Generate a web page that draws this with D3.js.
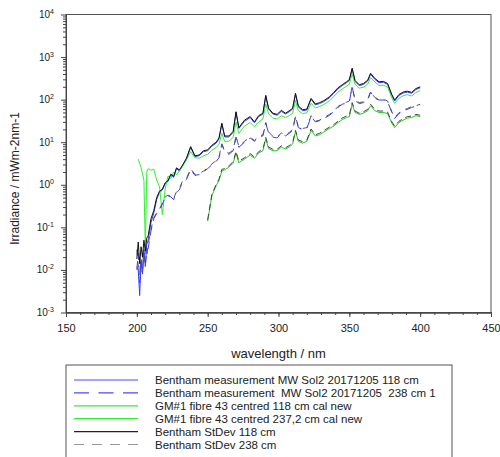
<!DOCTYPE html>
<html>
<head>
<meta charset="utf-8">
<script src="https://cdn.jsdelivr.net/npm/d3@7"></script>
<style>
body { margin: 0; background: #fff; }
figure { margin: 0; }
svg { display: block; font-family: "Liberation Sans", Arial, sans-serif; }
</style>
</head>
<body>
<figure id="chart"></figure>
<script>
// wavelength grid (nm) shared by every series
var wavelengths = [200, 201, 202, 203, 204, 205, 206, 207, 208, 210, 212, 214, 216, 218, 220, 222, 224, 226, 228, 230,
    232, 235, 238, 241, 244, 247, 250, 253, 256, 258, 260, 262, 265, 268, 270, 272, 276, 280, 283, 286,
    289, 291, 293, 296, 299, 302, 305, 308, 310, 312, 314, 317, 320, 323, 326, 329, 332, 336, 339, 342,
    345, 348, 350, 352, 354, 357, 360, 363, 365, 368, 371, 374, 377, 380, 382, 385, 388, 391, 394, 397, 400];

// irradiance, mW m-2 nm-1
var bentham118 = [0.012, 0.01, 0.0025, 0.016, 0.008, 0.03, 0.012, 0.04, 0.05, 0.13, 0.22, 0.45, 0.66, 0.75, 1.05, 1.2, 1.7, 1.5, 2.4, 2.1,
    2.7, 4.0, 7.5, 4.6, 4.8, 6.0, 6.3, 8.1, 9.5, 12, 27, 13.3, 13.3, 17, 50, 21, 31, 38, 28.5, 40,
    46, 120, 60, 46, 43, 53, 46, 53, 60, 134, 67, 55, 57, 102, 75, 81, 90, 111, 141, 180,
    213, 250, 280, 520, 268, 213, 228, 274, 396, 300, 250, 256, 228, 125, 93, 125, 143, 150, 141, 173, 190];

var bentham238 = [0.01, 0.025, 0.005, 0.02, 0.0089, 0.025, 0.0126, 0.028, 0.032, 0.083, 0.16, 0.21, 0.25, 0.35, 0.5, 0.54, 0.52, 0.45, 0.66, 0.76,
    1.12, 1.32, 2.3, 1.66, 1.74, 2.0, 2.4, 2.95, 3.55, 4.3, 8.9, 6.0, 5.2, 6.3, 13.2, 7.6, 10, 12.6, 10.5, 13.2,
    14.1, 28, 16.6, 13.2, 12.6, 15.8, 14.1, 16.6, 19, 40, 22, 20, 21, 40, 30, 32, 36, 43, 52, 66,
    78, 83, 89, 200, 95, 81, 85, 98, 151, 107, 98, 98, 89, 50, 36, 47, 55, 59, 66, 69, 74];

var gm118 = [null, 4.0, 3.2, 2.5, 1.8, 1.3, 0.03, 2.0, 2.4, 2.2, 2.3, 1.3, 0.9, 0.2, 0.8, 1.6, 1.4, 2.0, 1.7, 2.1,
    2.6, 3.8, 6.0, 4.3, 4.2, 4.8, 5.2, 6.5, 7.5, 9.0, 16, 10.5, 10.5, 13, 30, 16, 24, 29, 23, 30,
    35, 80, 46, 37, 35, 42, 38, 43, 48, 95, 55, 47, 49, 82, 64, 69, 77, 94, 118, 150,
    178, 208, 232, 400, 232, 186, 196, 232, 330, 260, 215, 218, 196, 110, 82, 108, 124, 130, 122, 148, 163];

var gm237 = [null, null, null, null, null, null, null, null, null, null, null, null, null, null, null, null, null, null, null, null,
    null, null, null, null, null, null, 0.14, 0.56, 0.95, 1.26, 2.1, 2.24, 2.6, 3.2, 5.6, 3.3, 4.0, 5.0, 4.2, 5.6,
    6.3, 12, 7.1, 6.3, 6.3, 7.6, 6.9, 7.9, 9.1, 17.8, 10.5, 9.5, 10.5, 19, 14, 15, 17.4, 21, 24, 29,
    34, 38, 40, 79, 50, 45, 48, 55, 72, 55, 50, 50, 47, 28, 22, 29, 33, 37, 38, 42, 40];

var stdev118 = [0.018, 0.045, 0.014, 0.035, 0.02, 0.05, 0.028, 0.056, 0.063, 0.16, 0.25, 0.5, 0.71, 0.79, 1.12, 1.26, 1.78, 1.58, 2.5, 2.24,
    2.8, 4.2, 7.9, 4.8, 5.0, 6.3, 6.6, 8.5, 10, 12.6, 28, 14, 14, 18, 52, 22, 33, 40, 30, 42,
    48, 126, 63, 48, 45, 56, 48, 56, 63, 141, 71, 58, 60, 107, 79, 85, 95, 117, 148, 190,
    224, 263, 295, 550, 282, 224, 240, 288, 417, 316, 263, 269, 240, 132, 98, 132, 151, 158, 148, 182, 200];

var stdev238 = [0.03, 0.012, 0.02, 0.009, 0.025, 0.014, 0.03, 0.02, 0.04, 0.09, 0.17, 0.22, 0.27, 0.37, 0.52, 0.57, 0.55, 0.48, 0.69, 0.8,
    1.18, 1.4, 2.4, 1.75, 1.82, 2.1, 2.5, 3.1, 3.7, 4.5, 9.2, 6.3, 5.5, 6.6, 13.8, 8.0, 10.5, 13.2, 11, 13.8,
    14.8, 29, 17.4, 13.8, 13.2, 16.5, 14.8, 17.4, 20, 41, 23, 21, 22, 42, 31, 33, 38, 45, 54, 69,
    81, 87, 93, 205, 99, 85, 89, 102, 156, 112, 102, 102, 93, 52, 38, 49, 57, 62, 69, 72, 78];

// a further trace whose legend row is cut off at the bottom of the picture
var stdev237 = [null, null, null, null, null, null, null, null, null, null, null, null, null, null, null, null, null, null, null, null,
    null, null, null, null, null, null, 0.15, 0.6, 1.02, 1.36, 2.3, 2.4, 2.8, 3.5, 6.1, 3.6, 4.3, 5.4, 4.5, 6.0,
    6.8, 13, 7.7, 6.8, 6.8, 8.2, 7.4, 8.5, 9.8, 19, 11.3, 10.3, 11.3, 20.5, 15, 16.2, 18.8, 22.6, 26, 31,
    37, 41, 43, 85, 54, 48, 52, 59, 78, 59, 54, 54, 51, 30, 24, 31, 36, 40, 41, 45, 43];

var xTicks = [150, 200, 250, 300, 350, 400, 450];
var yExponents = [-3, -2, -1, 0, 1, 2, 3, 4];

var legendLabels = [
    "Bentham measurement MW Sol2 20171205 118 cm",
    "Bentham measurement  MW Sol2 20171205  238 cm 1",
    "GM#1 fibre 43 centred 118 cm cal new",
    "GM#1 fibre 43 centred 237,2 cm cal new",
    "Bentham StDev 118 cm",
    "Bentham StDev 238 cm"
];

var series = [
    { name: legendLabels[0], values: bentham118, color: "#3a3aff", dash: null },
    { name: legendLabels[2], values: gm118, color: "#33ee33", dash: null },
    { name: legendLabels[3], values: gm237, color: "#22cc22", dash: null },
    { name: null, values: stdev237, color: "#444", dash: "6,4" },
    { name: legendLabels[1], values: bentham238, color: "#3a3aff", dash: "9,6" },
    { name: legendLabels[5], values: stdev238, color: "#555", dash: "6,6" },
    { name: legendLabels[4], values: stdev118, color: "#111", dash: null }
];

var legendStyles = [
    { color: "#4a4aff", dash: null },
    { color: "#4a4aff", dash: "15,9.5" },
    { color: "#33ee33", dash: null },
    { color: "#33ee33", dash: null },
    { color: "#222", dash: null },
    { color: "#999", dash: "10,8" }
];

var dimensions = {
    width: 500,
    height: 457,
    margin: {
        top: 14.5,
        right: 9,
        bottom: 144.5,
        left: 66,
    },
};

dimensions.boundedWidth = dimensions.width - dimensions.margin.left - dimensions.margin.right;
dimensions.boundedHeight = dimensions.height - dimensions.margin.top - dimensions.margin.bottom;

var root = d3.select("figure#chart")
    .append("svg")
    .attr("width", dimensions.width)
    .attr("height", dimensions.height);

var svg = root.append("g")
    .attr("transform", `translate(${dimensions.margin.left},${dimensions.margin.top})`);

var xScale = d3.scaleLinear()
    .domain([150, 450])
    .range([0, dimensions.boundedWidth]);

var yScale = d3.scaleLog()
    .domain([1e-3, 1e4])
    .range([dimensions.boundedHeight, 0]);

// frame round the plot
svg.append("rect")
    .attr("width", dimensions.boundedWidth)
    .attr("height", dimensions.boundedHeight)
    .attr("fill", "none")
    .attr("stroke", "#555")
    .attr("stroke-width", 1);

// traces
svg.append("clipPath").attr("id", "plotclip")
    .append("rect")
    .attr("width", dimensions.boundedWidth)
    .attr("height", dimensions.boundedHeight);

var line = d3.line()
    .defined(d => d[1] != null)
    .x(d => xScale(d[0]))
    .y(d => yScale(d[1]));

svg.append("g")
    .attr("clip-path", "url(#plotclip)")
    .selectAll("path")
    .data(series)
    .enter()
    .append("path")
    .attr("d", s => line(wavelengths.map((w, i) => [w, s.values[i]])))
    .attr("fill", "none")
    .attr("stroke", s => s.color)
    .attr("stroke-width", 1)
    .attr("stroke-dasharray", s => s.dash);

// y axis, minor then major ticks
var minorY = [];
yExponents.slice(0, -1).forEach(function(e) {
    for (var k = 2; k < 10; k++) minorY.push(k * Math.pow(10, e));
});
var majorY = yExponents.map(e => Math.pow(10, e));

svg.append("g")
    .attr("class", "y axis")
    .call(d3.axisLeft(yScale).tickValues(minorY).tickSize(3).tickSizeOuter(0).tickFormat(""));

svg.append("g")
    .attr("class", "y axis")
    .call(d3.axisLeft(yScale).tickValues(majorY).tickSize(5).tickSizeOuter(0).tickFormat(""));

var yLabels = svg.append("g")
    .selectAll("text")
    .data(yExponents)
    .enter()
    .append("text")
    .attr("x", -12)
    .attr("y", e => yScale(Math.pow(10, e)) + 3.5)
    .attr("text-anchor", "end")
    .attr("font-size", 10)
    .attr("fill", "#222");
yLabels.append("tspan").text("10");
yLabels.append("tspan")
    .attr("dy", -4)
    .attr("font-size", 7)
    .text(e => e);

// x axis
var minorX = d3.range(150, 451, 10);

svg.append("g")
    .attr("class", "x axis")
    .attr("transform", `translate(0,${dimensions.boundedHeight})`)
    .call(d3.axisBottom(xScale).tickValues(minorX).tickSize(2.5).tickSizeOuter(0).tickFormat(""));

svg.append("g")
    .attr("class", "x axis")
    .attr("transform", `translate(0,${dimensions.boundedHeight})`)
    .call(d3.axisBottom(xScale).tickValues(xTicks).tickSize(4.5).tickSizeOuter(0).tickPadding(7).tickFormat(d3.format("d")))
    .selectAll("text")
    .attr("font-size", 11)
    .attr("font-family", "Liberation Sans, Arial, sans-serif")
    .attr("fill", "#222");

svg.selectAll(".axis path, .axis line").attr("stroke", "#444");

// axis titles
svg.append("text")
    .attr("x", dimensions.boundedWidth / 2)
    .attr("y", dimensions.boundedHeight + 45)
    .attr("text-anchor", "middle")
    .attr("font-size", 13)
    .attr("fill", "#222")
    .text("wavelength / nm");

svg.append("text")
    .attr("transform", `translate(${-47},${dimensions.boundedHeight / 2 + 15}) rotate(-90)`)
    .attr("text-anchor", "middle")
    .attr("font-size", 12)
    .attr("fill", "#222")
    .text("Irradiance / mWm-2nm-1");

// legend box below the chart (runs off the bottom of the picture)
var legend = root.append("g")
    .attr("transform", "translate(66,365)");

legend.append("rect")
    .attr("width", 386)
    .attr("height", 110)
    .attr("fill", "none")
    .attr("stroke", "#555");

var rows = legend.selectAll("g.row")
    .data(legendLabels)
    .enter()
    .append("g")
    .attr("class", "row")
    .attr("transform", (d, i) => `translate(0,${15 + i * 12.9})`);

rows.append("line")
    .attr("x1", 8)
    .attr("x2", 72)
    .attr("stroke", (d, i) => legendStyles[i].color)
    .attr("stroke-width", 1.2)
    .attr("stroke-dasharray", (d, i) => legendStyles[i].dash);

rows.append("text")
    .attr("x", 89)
    .attr("y", 4)
    .attr("font-size", 11.5)
    .attr("fill", "#222")
    .style("white-space", "pre")
    .text(d => d);
</script>
</body>
</html>
